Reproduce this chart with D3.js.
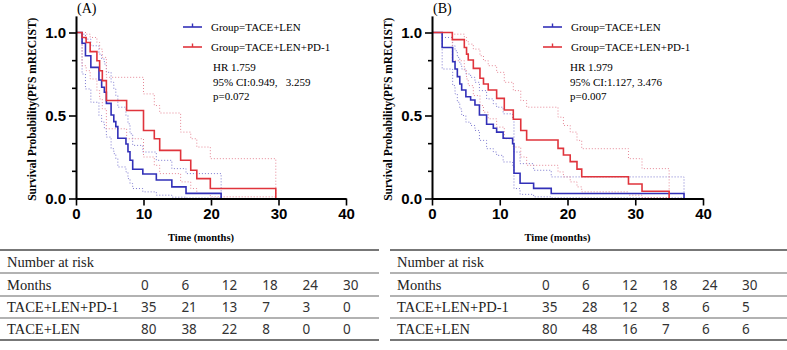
<!DOCTYPE html>
<html>
<head>
<meta charset="utf-8">
<script src="https://cdn.jsdelivr.net/npm/d3@7"></script>
<style>
  body { margin: 0; background: #fff; }
  svg { display: block; }
</style>
</head>
<body>
<div id="chart"></div>
<script>
// ---- data ----
// panel A, TACE+LEN (blue): step times, estimate, upper / lower 95% band
const aLenT = [0, 0.9, 1.4, 2.2, 3.4, 3.8, 4.2, 4.5, 5.2, 5.6, 5.9, 6.2, 7.4, 7.7, 8.0, 8.4, 9.9, 11.9, 14.2, 16.3, 21.5];
const aLenS = [1, 0.935, 0.86, 0.79, 0.714, 0.67, 0.64, 0.573, 0.503, 0.463, 0.433, 0.363, 0.328, 0.282, 0.23, 0.176, 0.148, 0.111, 0.07, 0.031, 0];
const aLenU = [1, 0.99, 0.96, 0.92, 0.87, 0.84, 0.81, 0.76, 0.7, 0.66, 0.62, 0.55, 0.5, 0.45, 0.39, 0.32, 0.28, 0.23, 0.18, 0.15, 0];
const aLenL = [1, 0.75, 0.66, 0.58, 0.5, 0.46, 0.42, 0.37, 0.3, 0.27, 0.24, 0.19, 0.16, 0.12, 0.09, 0.06, 0.04, 0.02, 0.008, 0.003, 0];

// panel A, TACE+LEN+PD-1 (red)
const aPdT = [0, 0.9, 1.5, 2.1, 3.1, 3.5, 3.9, 4.5, 7.5, 10.0, 11.6, 12.4, 15.5, 17.0, 17.9, 19.9, 29.6];
const aPdS = [1, 0.97, 0.94, 0.885, 0.83, 0.77, 0.71, 0.59, 0.53, 0.41, 0.36, 0.29, 0.23, 0.17, 0.12, 0.06, 0];
const aPdU = [1, 1, 0.99, 0.97, 0.94, 0.9, 0.85, 0.73, 0.73, 0.63, 0.56, 0.515, 0.4, 0.36, 0.31, 0.24, 0];
const aPdL = [1, 0.8, 0.77, 0.72, 0.65, 0.6, 0.54, 0.42, 0.36, 0.25, 0.2, 0.15, 0.1, 0.06, 0.03, 0.01, 0];

// panel B, TACE+LEN (blue)
const bLenT = [0, 1.5, 3.05, 3.4, 3.74, 4.1, 4.38, 5.0, 5.7, 6.34, 7.0, 8.06, 9.05, 9.54, 10.5, 11.9, 12.1, 13.0, 15.0, 17.6, 37.2];
const bLenS = [1, 0.91, 0.824, 0.78, 0.734, 0.69, 0.654, 0.613, 0.593, 0.563, 0.503, 0.447, 0.423, 0.4, 0.363, 0.33, 0.152, 0.092, 0.061, 0.03, 0];
const bLenU = [1, 0.97, 0.92, 0.89, 0.85, 0.81, 0.78, 0.75, 0.73, 0.7, 0.65, 0.6, 0.57, 0.55, 0.51, 0.48, 0.28, 0.21, 0.17, 0.13, 0];
const bLenL = [1, 0.78, 0.68, 0.63, 0.58, 0.54, 0.5, 0.46, 0.44, 0.41, 0.35, 0.3, 0.28, 0.26, 0.22, 0.2, 0.06, 0.025, 0.01, 0.004, 0];

// panel B, TACE+LEN+PD-1 (red)
const bPdT = [0, 3.0, 4.77, 5.1, 5.35, 6.1, 7.08, 7.6, 8.3, 9.54, 10.67, 12.0, 13.1, 13.97, 18.6, 19.4, 20.4, 21.4, 22.1, 29.0, 31.0, 35.0];
const bPdS = [1, 0.957, 0.91, 0.87, 0.834, 0.784, 0.724, 0.69, 0.654, 0.603, 0.533, 0.477, 0.41, 0.352, 0.302, 0.262, 0.222, 0.177, 0.131, 0.087, 0.044, 0];
const bPdU = [1, 0.99, 0.97, 0.95, 0.93, 0.9, 0.86, 0.83, 0.8, 0.76, 0.7, 0.65, 0.59, 0.55, 0.49, 0.44, 0.4, 0.35, 0.3, 0.24, 0.18, 0];
const bPdL = [1, 0.83, 0.77, 0.72, 0.68, 0.62, 0.56, 0.52, 0.48, 0.43, 0.36, 0.31, 0.25, 0.2, 0.16, 0.13, 0.1, 0.07, 0.04, 0.02, 0.005, 0];

// number at risk tables
const riskMonths = [0, 6, 12, 18, 24, 30];
const aRiskPd = [35, 21, 13, 7, 3, 0];
const aRiskLen = [80, 38, 22, 8, 0, 0];
const bRiskPd = [35, 28, 12, 8, 6, 5];
const bRiskLen = [80, 48, 16, 7, 6, 6];

const xTicks = [0, 10, 20, 30, 40];
const yTicks = [0, 0.5, 1];
const yMinor = [1 / 6, 1 / 3, 2 / 3, 5 / 6];

// ---- layout ----
const W = 787, H = 350;
const BLUE = "#3230b8", RED = "#e0343c";
const BLUE_CI = "#7c78cf", RED_CI = "#e58796";
const SERIF = "'Liberation Serif', 'Times New Roman', serif";
const SANS = "'Liberation Sans', Arial, sans-serif";

const svg = d3.select("#chart").append("svg")
  .attr("width", W).attr("height", H);

const panels = [
  {
    tag: "(A)", x0: 76, x1: 346, legX: 183, hrX: 213,
    hr: ["HR 1.759", "95% CI:0.949,   3.259", "p=0.072"],
    len: [aLenT, aLenS, aLenU, aLenL], pd: [aPdT, aPdS, aPdU, aPdL],
    tbl: { x0: 0, x1: 379, lab: 7, c0: 141, c30: 343, pd: aRiskPd, len: aRiskLen }
  },
  {
    tag: "(B)", x0: 432, x1: 703, legX: 543, hrX: 570,
    hr: ["HR 1.979", "95% CI:1.127, 3.476", "p=0.007"],
    len: [bLenT, bLenS, bLenU, bLenL], pd: [bPdT, bPdS, bPdU, bPdL],
    tbl: { x0: 390, x1: 787, lab: 397, c0: 542, c30: 742, pd: bRiskPd, len: bRiskLen }
  }
];

panels.forEach((p) => {
  const g = svg.append("g");

  const x = d3.scaleLinear().domain([0, 40]).range([p.x0, p.x1]);
  const y = d3.scaleLinear().domain([0, 1.1]).range([198.5, 15.9]);

  const step = (T, S) => d3.line()
    .x((d, i) => x(T[i]))
    .y((d) => y(d))
    .curve(d3.curveStepAfter)(S);

  // confidence bands (dotted) first, then the estimates
  [[p.len, BLUE_CI], [p.pd, RED_CI]].forEach(([s, c]) => {
    [s[2], s[3]].forEach((band) => {
      g.append("path")
        .attr("d", step(s[0], band))
        .attr("fill", "none")
        .attr("stroke", c)
        .attr("stroke-width", 1)
        .attr("stroke-dasharray", "1,2");
    });
  });
  [[p.len, BLUE], [p.pd, RED]].forEach(([s, c]) => {
    g.append("path")
      .attr("d", step(s[0], s[1]))
      .attr("fill", "none")
      .attr("stroke", c)
      .attr("stroke-width", 1.6);
  });

  // axes
  const yAxis = g.append("g")
    .attr("transform", `translate(${p.x0},0)`)
    .call(d3.axisLeft(y).tickValues(yTicks).tickFormat(d3.format(".1f")).tickSize(7).tickSizeOuter(0).tickPadding(3));
  g.append("g")
    .attr("transform", `translate(${p.x0},0)`)
    .call(d3.axisLeft(y).tickValues(yMinor).tickFormat("").tickSize(4).tickSizeOuter(0))
    .call((a) => a.select(".domain").remove());
  const xAxis = g.append("g")
    .attr("transform", `translate(0,${y(0)})`)
    .call(d3.axisBottom(x).tickValues(xTicks).tickSize(7).tickSizeOuter(0).tickPadding(3));

  g.selectAll(".domain").attr("stroke", "#000").attr("stroke-width", 2);
  g.selectAll(".tick line").attr("stroke", "#000").attr("stroke-width", 1.6);
  [yAxis, xAxis].forEach((a) => a.selectAll("text")
    .attr("fill", "#000")
    .style("font-family", SANS)
    .style("font-weight", "bold")
    .style("font-size", "15px"));

  // titles
  g.append("text")
    .attr("transform", `translate(${p.x0 - 40},${(y(0) + y(1.1)) / 2 + 2}) rotate(-90)`)
    .attr("text-anchor", "middle")
    .style("font-family", SERIF).style("font-weight", "bold").style("font-size", "11.5px")
    .text("Survival Probability(PFS mRECIST)");
  g.append("text")
    .attr("x", x(20) - 10).attr("y", 241)
    .attr("text-anchor", "middle")
    .style("font-family", SERIF).style("font-weight", "bold").style("font-size", "10.5px")
    .text("Time (months)");
  g.append("text")
    .attr("x", p.x0 + 1).attr("y", 13)
    .style("font-family", SERIF).style("font-size", "14px")
    .text(p.tag);

  // legend
  [["Group=TACE+LEN", BLUE, 27], ["Group=TACE+LEN+PD-1", RED, 47]].forEach(([lab, c, ly]) => {
    g.append("line")
      .attr("x1", p.legX).attr("x2", p.legX + 19)
      .attr("y1", ly).attr("y2", ly)
      .attr("stroke", c).attr("stroke-width", 1.6);
    g.append("line")
      .attr("x1", p.legX + 9.5).attr("x2", p.legX + 9.5)
      .attr("y1", ly).attr("y2", ly - 3.5)
      .attr("stroke", c).attr("stroke-width", 1.4);
    g.append("text")
      .attr("x", p.legX + 28).attr("y", ly + 4)
      .style("font-family", SERIF).style("font-size", "11px")
      .text(lab);
  });
  p.hr.forEach((t, i) => {
    g.append("text")
      .attr("x", p.hrX).attr("y", 71 + i * 14.5)
      .attr("xml:space", "preserve")
      .style("white-space", "pre")
      .style("font-family", SERIF).style("font-size", "11px")
      .text(t);
  });

  // number at risk table
  const t = p.tbl;
  const col = d3.scaleLinear().domain([0, 30]).range([t.c0, t.c30]);
  const lines = [250, 273, 296, 318, 340];
  lines.forEach((ly, i) => {
    g.append("line")
      .attr("x1", t.x0).attr("x2", t.x1)
      .attr("y1", ly).attr("y2", ly)
      .attr("stroke", i === 0 || i === lines.length - 1 ? "#777" : "#999")
      .attr("stroke-width", i === 0 || i === lines.length - 1 ? 2 : 1.4);
  });
  const rows = [
    ["Number at risk", null, 267],
    ["Months", riskMonths, 290],
    ["TACE+LEN+PD-1", t.pd, 312],
    ["TACE+LEN", t.len, 334]
  ];
  rows.forEach(([lab, vals, ry]) => {
    g.append("text")
      .attr("x", t.lab).attr("y", ry)
      .style("font-family", SERIF).style("font-size", "14.5px")
      .attr("fill", "#222")
      .text(lab);
    if (vals) {
      g.selectAll(null).data(vals).enter().append("text")
        .attr("x", (d, i) => col(riskMonths[i])).attr("y", ry)
        .style("font-family", "'Noto Sans', sans-serif").style("font-size", "13.5px")
        .attr("fill", "#333")
        .text((d) => d);
    }
  });
});
</script>
</body>
</html>
